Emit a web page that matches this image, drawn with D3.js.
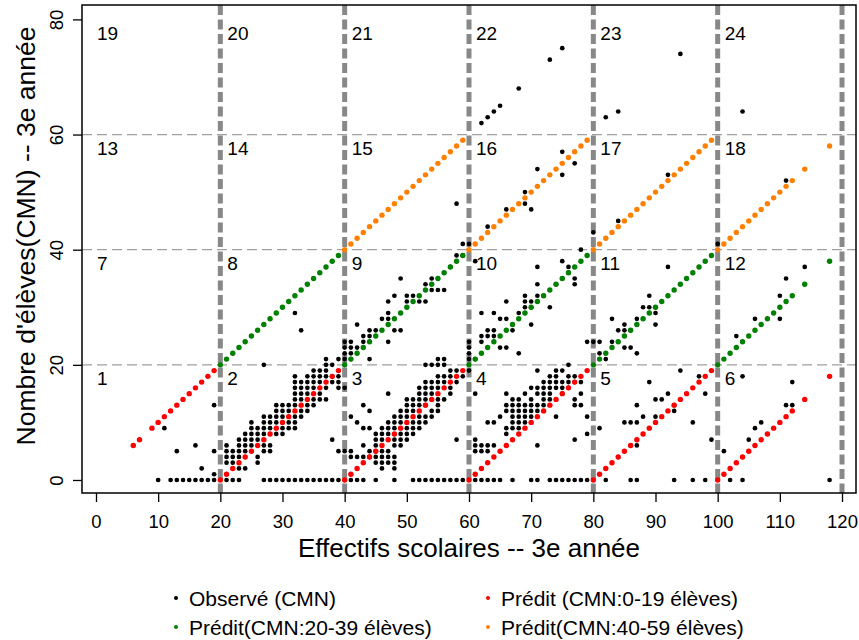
<!DOCTYPE html>
<html>
<head>
<meta charset="utf-8">
<script src="https://cdn.jsdelivr.net/npm/d3@7.9.0/dist/d3.min.js"></script>
<style>
  body { margin: 0; background: #fff; }
  svg { display: block; font-family: Arial, "Liberation Sans", sans-serif; }
</style>
</head>
<body>
<svg id="chart" width="859" height="640"></svg>
<script>
// x positions where a prediction is drawn
const predX = [6,7,9,10,11,12,13,14,15,16,17,18,19,
  20,21,22,23,24,25,26,27,28,29,30,31,32,33,34,35,36,37,38,39,
  40,41,42,43,44,45,46,47,48,49,50,51,52,53,54,55,56,57,58,59,
  60,61,62,63,64,65,66,67,68,69,70,71,72,73,74,75,76,77,78,79,
  80,81,82,83,84,85,86,87,88,89,90,91,92,93,94,95,96,97,98,99,
  100,101,102,103,104,105,106,107,108,109,110,111,112,114,118];

const predRed = [6,7,9,10,11,12,13,14,15,16,17,18,19,
  0,1,2,3,4,5,6,7,8,9,10,11,12,13,14,15,16,17,18,19,
  0,1,2,3,4,5,6,7,8,9,10,11,12,13,14,15,16,17,18,19,
  0,1,2,3,4,5,6,7,8,9,10,11,12,13,14,15,16,17,18,19,
  0,1,2,3,4,5,6,7,8,9,10,11,12,13,14,15,16,17,18,19,
  0,1,2,3,4,5,6,7,8,9,10,11,12,14,18];

const predGreen = [null,null,null,null,null,null,null,null,null,null,null,null,null,
  20,21,22,23,24,25,26,27,28,29,30,31,32,33,34,35,36,37,38,39,
  20,21,22,23,24,25,26,27,28,29,30,31,32,33,34,35,36,37,38,39,
  20,21,22,23,24,25,26,27,28,29,30,31,32,33,34,35,36,37,38,39,
  20,21,22,23,24,25,26,27,28,29,30,31,32,33,34,35,36,37,38,39,
  20,21,22,23,24,25,26,27,28,29,30,31,32,34,38];

const predOrange = [null,null,null,null,null,null,null,null,null,null,null,null,null,
  null,null,null,null,null,null,null,null,null,null,null,null,null,null,null,null,null,null,null,null,
  40,41,42,43,44,45,46,47,48,49,50,51,52,53,54,55,56,57,58,59,
  40,41,42,43,44,45,46,47,48,49,50,51,52,53,54,55,56,57,58,59,
  40,41,42,43,44,45,46,47,48,49,50,51,52,53,54,55,56,57,58,59,
  40,41,42,43,44,45,46,47,48,49,50,51,52,54,58];

// observed: [x, list of y]
const observed = [
  [10,[0]],[11,[9]],[12,[0]],[13,[0,5]],[14,[0]],[15,[0]],[16,[0,6]],[17,[0,2]],[18,[0]],
  [19,[0,1,5,13]],
  [21,[0,3,4,5,6]],[22,[0,3,4,5]],[23,[0,2,4,5,6,7]],[24,[2,5,6,7,8]],[25,[6,7,8,9,10]],
  [26,[3,4,7,8,9]],[27,[0,5,6,8,9,10,11,20]],[28,[0,5,6,9,10,11]],[29,[0,8,10,11,12,13]],
  [30,[0,8,9,11,12,13]],[31,[0,9,10,12,13]],[32,[0,9,10,11,13,14,15,16,17,18,29]],
  [33,[0,11,12,14,15,16,17,26]],[34,[0,12,13,15,16,17,18]],[35,[0,13,14,16,17,18,19]],
  [36,[0,14,15,17,18,19]],[37,[0,14,16,18,19,20,21]],[38,[0,7,17,18,20]],[39,[0,5,16,17,18,21]],
  [40,[5,16,21,22,23,24]],[41,[0,4,5,11,21,22,23,24]],[42,[0,4,10,23,27]],[43,[0,4,6,9,13,24,25]],
  [44,[4,5,9,12,21,25,26]],[45,[0,3,4,5,6,7,8,26]],[46,[2,3,4,5,7,8,9,28]],
  [47,[3,4,5,8,9,10,15,24,28,29,31]],[48,[0,2,3,4,6,7,9,10,11,26,32]],[49,[6,7,8,10,11,12,26,35]],
  [50,[7,8,9,11,12,13,14,31,32]],[51,[0,8,9,10,12,13,14,32]],[52,[0,9,10,11,13,14,15,16,31]],
  [53,[0,10,11,13,14,15,16,17,20,31,34]],[54,[0,11,12,15,16,17,20,33,35]],
  [55,[0,12,13,14,16,17,18,20,21,33]],[56,[0,14,17,18,20,21,33]],[57,[0,15,16,18,19,37]],
  [58,[0,7,17,19,39,48]],[59,[0,18,39,41]],
  [60,[19,21,22,23,24,41]],[61,[0,5,6,7,15,21,38]],[62,[0,5,6,24,25,29,62]],
  [63,[0,5,6,10,25,26,44,63]],[64,[0,6,10,25,26,29,64]],[65,[0,11,23,28,65]],
  [66,[8,9,12,13,15,23,28,31,47]],[67,[0,9,10,11,12,13,14,26,27]],[68,[9,10,11,12,13,14,22,29,68]],
  [69,[10,11,12,13,15,29,30,31,32,48,50]],[70,[0,11,12,13,14,16,27,30,31,47]],
  [71,[0,6,12,13,15,16,19,32,34,37,54]],[72,[13,14,15,16,17,32]],[73,[0,14,15,16,17,18,30,73]],
  [74,[0,11,16,17,18,19,34]],[75,[0,15,16,17,19,35,38,53,57,75]],[76,[0,16,17,18,20,36,37]],
  [77,[0,7,13,14,17,18,34,35,55]],[78,[0,13,15,17,40]],[79,[0,8,11,24]],
  [80,[24,43]],[81,[9,22,24]],[82,[0,21,63]],[83,[24,28]],[84,[26,45,64]],[85,[10,23,26,27]],
  [86,[0,6,10,23,26]],[87,[0,6,10,13,22,28]],[88,[11,30]],[89,[17,30,32]],[90,[11,14,27,29,30]],
  [91,[14]],[92,[15,37,53]],[93,[0,12,13]],[94,[19,74]],[96,[0,10]],[97,[18]],[98,[0,15]],[99,[7]],
  [100,[41]],[101,[5]],[102,[0]],[103,[25]],[104,[0,18,64]],[105,[7]],[106,[9,28]],[107,[10]],
  [110,[28,32]],[111,[13,35,52]],[112,[13,17]],[114,[37]],[118,[0]]
];

const xTicks = [0,10,20,30,40,50,60,70,80,90,100,110,120];
const yTicks = [0,20,40,60,80];
const cellNumbers = d3.range(1, 25);
const legendItems = [
  { label: 'Observé (CMN)', color: '#000000' },
  { label: 'Prédit (CMN:0-19 élèves)', color: '#ff0000' },
  { label: 'Prédit(CMN:20-39 élèves)', color: '#008000' },
  { label: 'Prédit(CMN:40-59 élèves)', color: '#ff8000' }
];

const svg = d3.select('#chart');
const L = 82, R = 856, T = 5, B = 493;
const x = d3.scaleLinear().domain([-2.25, 122.25]).range([L, R]);
const y = d3.scaleLinear().domain([-2.26, 82.5]).range([B, T]);

// horizontal thin dashed lines
svg.append('g').selectAll('line').data([20, 40, 60]).join('line')
  .attr('x1', L).attr('x2', R)
  .attr('y1', d => y(d)).attr('y2', d => y(d))
  .attr('stroke', '#a0a0a0').attr('stroke-width', 1.3)
  .attr('stroke-dasharray', '10,5');

// vertical thick dashed lines
svg.append('g').selectAll('line').data([20, 40, 60, 80, 100, 120]).join('line')
  .attr('x1', d => x(d)).attr('x2', d => x(d))
  .attr('y1', T).attr('y2', B)
  .attr('stroke', '#888888').attr('stroke-width', 5)
  .attr('stroke-dasharray', '10,4.5');

// cell numbers
svg.append('g').selectAll('text').data(cellNumbers).join('text')
  .attr('x', n => {
    let c = ((n - 1) % 6) * 20;
    return c === 0 ? x(0) + 1 : x(c) + 7;
  })
  .attr('y', n => y(Math.floor((n - 1) / 6) * 20 + 20) + 20.5)
  .attr('font-size', 19)
  .attr('fill', '#000')
  .text(n => n);

// observed points
let obsPts = observed.flatMap(([xv, ys]) => ys.map(yv => [xv, yv]));
svg.append('g').selectAll('circle').data(obsPts).join('circle')
  .attr('cx', d => x(d[0])).attr('cy', d => y(d[1]))
  .attr('r', 2.35).attr('fill', '#000');

// predicted series
function drawPred(values, color) {
  let pts = predX.map((xv, i) => [xv, values[i]]).filter(d => d[1] != null);
  svg.append('g').selectAll('circle').data(pts).join('circle')
    .attr('cx', d => x(d[0])).attr('cy', d => y(d[1]))
    .attr('r', 2.7).attr('fill', color);
}
drawPred(predRed, '#ff0000');
drawPred(predGreen, '#008000');
drawPred(predOrange, '#ff8000');

// frame
svg.append('rect')
  .attr('x', L).attr('y', T).attr('width', R - L).attr('height', B - T)
  .attr('fill', 'none').attr('stroke', '#000').attr('stroke-width', 1.5);

// axes
let yAxis = svg.append('g').attr('transform', `translate(${L},0)`)
  .call(d3.axisLeft(y).tickValues(yTicks).tickSize(9).tickFormat(d3.format('d')));
yAxis.select('.domain').remove();
yAxis.selectAll('line').attr('stroke', '#000').attr('stroke-width', 1.3);
yAxis.selectAll('text')
  .attr('transform', 'rotate(-90)')
  .attr('x', 0).attr('y', -19).attr('dy', 0)
  .attr('text-anchor', 'middle')
  .attr('font-size', 18.5).attr('font-family', 'Arial, "Liberation Sans", sans-serif')
  .attr('fill', '#000');

let xAxis = svg.append('g').attr('transform', `translate(0,${B})`)
  .call(d3.axisBottom(x).tickValues(xTicks).tickSize(9).tickFormat(d3.format('d')));
xAxis.select('.domain').remove();
xAxis.selectAll('line').attr('stroke', '#000').attr('stroke-width', 1.3);
xAxis.selectAll('text')
  .attr('y', 35).attr('dy', 0)
  .attr('font-size', 18.5).attr('font-family', 'Arial, "Liberation Sans", sans-serif')
  .attr('fill', '#000');

// axis titles
svg.append('text')
  .attr('x', (L + R) / 2).attr('y', 557)
  .attr('text-anchor', 'middle').attr('font-size', 26)
  .text('Effectifs scolaires -- 3e année');

svg.append('text')
  .attr('transform', 'translate(35,236) rotate(-90)')
  .attr('text-anchor', 'middle').attr('font-size', 26.5)
  .text("Nombre d'élèves(CMN) -- 3e année");

// legend
let legend = svg.append('g');
legendItems.forEach((d, i) => {
  let lx = i % 2 === 0 ? 176 : 488;
  let ly = i < 2 ? 598 : 627;
  legend.append('circle').attr('cx', lx).attr('cy', ly).attr('r', 2).attr('fill', d.color);
  legend.append('text').attr('x', lx + 13).attr('y', ly + 7.5)
    .attr('font-size', 21).text(d.label);
});
</script>
</body>
</html>
